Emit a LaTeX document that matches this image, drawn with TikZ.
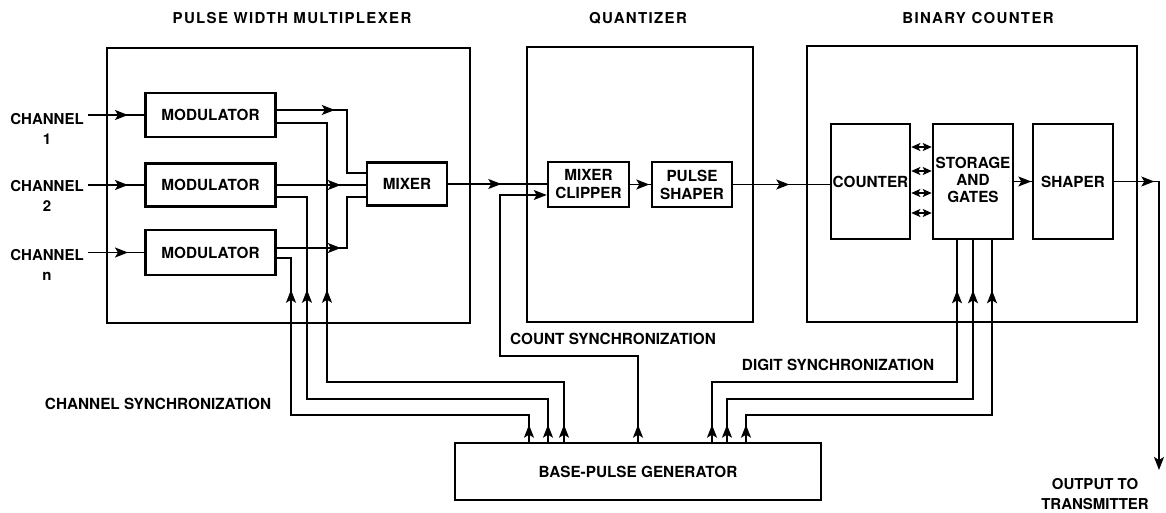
\documentclass[tikz,border=0pt]{standalone}
\usepackage{fontspec}
\setmainfont{TeX Gyre Heros}
\usetikzlibrary{arrows.meta,decorations.markings}
\newcommand\lblf{\fontsize{15.3}{18}\selectfont\bfseries}
\newcommand\chf{\fontsize{15}{20}\selectfont\bfseries}
\newcommand\ttlf{\fontsize{15}{18}\selectfont\bfseries\addfontfeatures{LetterSpace=9}}
\tikzset{
  blk/.style={draw, line width=2.6pt, inner sep=0pt, align=center, font=\lblf},
  outer/.style={draw, line width=2.6pt, inner sep=0pt},
  ttl/.style={inner sep=0pt, font=\ttlf},
  lbl/.style={inner sep=0pt, font=\lblf, align=center},
  chl/.style={inner sep=0pt, font=\chf, align=center},
  conn/.style={line width=1.4pt},
  tipend/.style={-{Stealth[length=13pt,width=10pt,inset=3pt]}},
  dbl/.style={line width=1.4pt, {Stealth[length=9pt,width=8pt,inset=2pt]}-{Stealth[length=9pt,width=8pt,inset=2pt]}},
  arrowat/.style={postaction={decorate,decoration={markings,mark=at position #1 with {\arrow{Stealth[length=13pt,width=10pt,inset=3pt]}}}}}
}
\begin{document}
\begin{tikzpicture}[x=1pt,y=-1pt]
\useasboundingbox (0,0) rectangle (1166,513);
% outer boxes
\node[outer, minimum width=363pt, minimum height=275pt] (mux) at (288.5,185.5) {};
\node[outer, minimum width=226pt, minimum height=275pt] (quant) at (640,184.5) {};
\node[outer, minimum width=330pt, minimum height=276pt] (bin) at (972,184) {};
% titles
\node[ttl] (tmux) at (292,18) {PULSE WIDTH MULTIPLEXER};
\node[ttl] (tquant) at (638,18) {QUANTIZER};
\node[ttl] (tbin) at (978,18) {BINARY COUNTER};
% inner blocks
\node[blk, minimum width=130pt, minimum height=44pt] (mod1) at (210.5,115) {MODULATOR};
\node[blk, minimum width=130pt, minimum height=43pt] (mod2) at (210.5,185) {MODULATOR};
\node[blk, minimum width=130pt, minimum height=45pt] (mod3) at (210.5,252.5) {MODULATOR};
\node[blk, minimum width=80pt, minimum height=43pt] (mixer) at (407,184) {MIXER};
\node[blk, minimum width=81pt, minimum height=45pt] (mixclip) at (588.5,184.5) {MIXER\\CLIPPER};
\node[blk, minimum width=80pt, minimum height=45pt] (pshaper) at (692,184.5) {PULSE\\SHAPER};
\node[blk, minimum width=79pt, minimum height=115pt] (counter) at (870.5,181.5) {COUNTER};
\node[blk, minimum width=80pt, minimum height=115pt] (storage) at (973,181.5) {\raisebox{-4pt}{\begin{tabular}{@{}c@{}}STORAGE\\[-1pt]AND\\[-1pt]GATES\end{tabular}}};
\node[blk, minimum width=80pt, minimum height=115pt] (shaper) at (1073,181.5) {SHAPER};
\node[blk, minimum width=366pt, minimum height=57pt] (gen) at (638,471.5) {BASE-PULSE GENERATOR};
% channel labels
\node[chl] (ch1) at (47,129) {CHANNEL\\1};
\node[chl] (ch2) at (47,196) {CHANNEL\\2};
\node[chl] (chn) at (47,265) {CHANNEL\\n};
\coordinate (c1) at (88,115);
\coordinate (c2) at (88,185);
\coordinate (cn) at (88,252.5);
\draw[conn, arrowat=40pt] (c1) -- (mod1.west);
\draw[conn, arrowat=40pt] (c2) -- (mod2.west);
\draw[conn, arrowat=40pt] (cn) -- (mod3.west);
% modulators to mixer
\draw[conn, arrowat=58pt] ([yshift=5pt]mod1.east) -| (347,173) -- ([yshift=11pt]mixer.west);
\draw[conn, arrowat=64pt] (mod2.east) -- (mod2.east -| mixer.west);
\draw[conn, arrowat=64pt] ([yshift=4.5pt]mod3.east) -| (347,197) -- ([yshift=-13pt]mixer.west);
% channel synchronization
\draw[conn, arrowat=17pt, arrowat=-217pt] ([xshift=-74pt]gen.north) |- (327,382) |- ([yshift=-8pt]mod1.east);
\draw[conn, arrowat=17pt, arrowat=-123pt] ([xshift=-90pt]gen.north) |- (307,399) |- ([yshift=-12pt]mod2.east);
\draw[conn, arrowat=17pt, arrowat=-46pt] ([xshift=-109pt]gen.north) |- (291,415) |- ([yshift=-5.5pt]mod3.east);
\node[lbl] (lchs) at (158,404) {CHANNEL SYNCHRONIZATION};
% quantizer
\draw[conn, arrowat=53pt] (mixer.east) -- (mixer.east -| mixclip.west);
\draw[conn, tipend, arrowat=17pt] (gen.north) |- (500,356) |- ([yshift=-10.5pt]mixclip.west);
\node[lbl] (lcs) at (613,339) {COUNT SYNCHRONIZATION};
\draw[conn, arrowat=19pt] (mixclip.east) -- (mixclip.east -| pshaper.west);
\draw[conn, arrowat=56pt] (pshaper.east) -- (pshaper.east -| counter.west);
% binary counter
\draw[dbl] ([yshift=34.5pt]counter.east) -- ([yshift=34.5pt]storage.west);
\draw[dbl] ([yshift=10.5pt]counter.east) -- ([yshift=10.5pt]storage.west);
\draw[dbl] ([yshift=-11.5pt]counter.east) -- ([yshift=-11.5pt]storage.west);
\draw[dbl] ([yshift=-31.5pt]counter.east) -- ([yshift=-31.5pt]storage.west);
\draw[conn, arrowat=17pt] (storage.east) -- (shaper.west);
% digit synchronization
\draw[conn, arrowat=17pt, arrowat=-50pt] ([xshift=74pt]gen.north) |- (957,382) -- ([xshift=-16pt]storage.south);
\draw[conn, arrowat=17pt, arrowat=-50pt] ([xshift=89pt]gen.north) |- (973,399) -- (storage.south);
\draw[conn, arrowat=17pt, arrowat=-50pt] ([xshift=108pt]gen.north) |- (992,415) -- ([xshift=19pt]storage.south);
\node[lbl] (lds) at (838,365) {DIGIT SYNCHRONIZATION};
% output
\coordinate (outc) at (1159,470);
\draw[conn, tipend, arrowat=40pt] (shaper.east) -| (outc);
\node[chl] (lout) at (1095,494) {OUTPUT TO\\TRANSMITTER};
\end{tikzpicture}
\end{document}
